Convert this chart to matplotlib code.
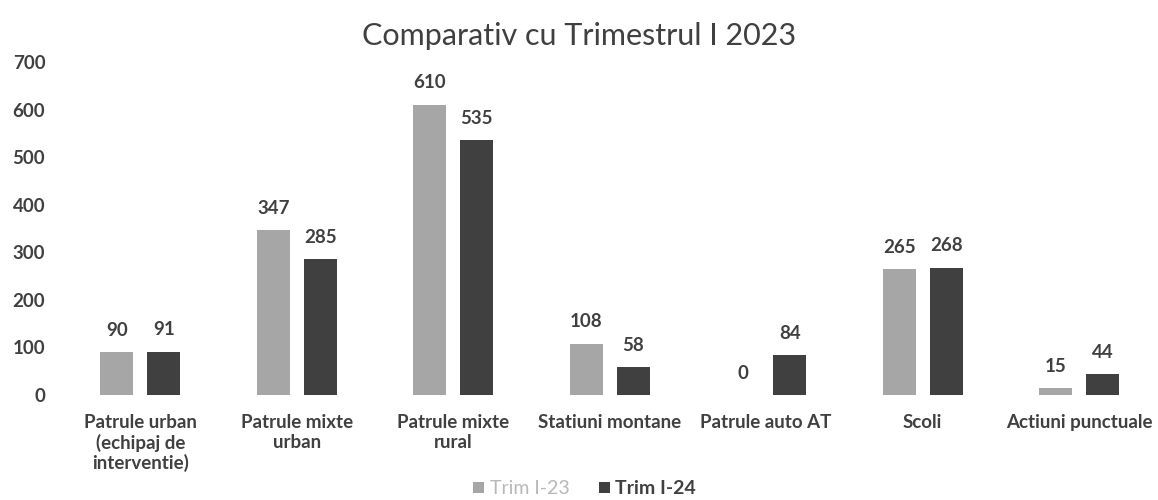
import numpy as np
import matplotlib.pyplot as plt

categorii = ["Patrule urban\n(echipaj de\ninterventie)", "Patrule mixte\nurban", "Patrule mixte\nrural",
             "Statiuni montane", "Patrule auto AT", "Scoli", "Actiuni punctuale"]
trim_23 = [90, 347, 610, 108, 0, 265, 15]
trim_24 = [91, 285, 535, 58, 84, 268, 44]

plt.rcParams['font.family'] = ['Lato', 'DejaVu Sans']
text_col = '#404040'

fig = plt.figure(figsize=(11.58, 5.0), dpi=100)
ax = fig.add_axes([0.0535, 0.21, 0.946, 0.666])

x = np.arange(len(categorii))
w = 0.21
b1 = ax.bar(x - 0.15, trim_23, w, color='#a6a6a6', label='Trim I-23')
b2 = ax.bar(x + 0.15, trim_24, w, color='#404040', label='Trim I-24')

for bars in (b1, b2):
    for r in bars:
        ax.text(r.get_x() + r.get_width() / 2, r.get_height() + 28, f"{int(r.get_height())}",
                ha='center', va='bottom', fontsize=13.5, color=text_col, fontweight='bold')

ax.set_xlim(-0.5, 6.5)
ax.set_ylim(0, 700)
ax.set_yticks(range(0, 701, 100))
ax.set_xticks(x)
ax.set_xticklabels(categorii, fontsize=13.5, color=text_col, fontweight='bold', va='top',
                   linespacing=1.15)
ax.tick_params(axis='y', labelsize=13.5, labelcolor=text_col, length=0, pad=12)
ax.tick_params(axis='x', length=0, pad=14)
for lbl in ax.get_yticklabels():
    lbl.set_fontweight('bold')
for s in ax.spines.values():
    s.set_visible(False)

fig.suptitle("Comparativ cu Trimestrul I 2023", x=0.5, y=0.955, fontsize=22, color=text_col)

leg = fig.legend(loc='lower center', bbox_to_anchor=(0.505, -0.03), ncol=2, frameon=False,
                 fontsize=14, handlelength=0.55, handleheight=0.55, columnspacing=1.5, handletextpad=0.3)
leg.get_texts()[0].set_color('#b8b8b8')
leg.get_texts()[1].set_color(text_col)
leg.get_texts()[1].set_fontweight('bold')

fig.savefig('out.png', dpi=100, facecolor='white')
